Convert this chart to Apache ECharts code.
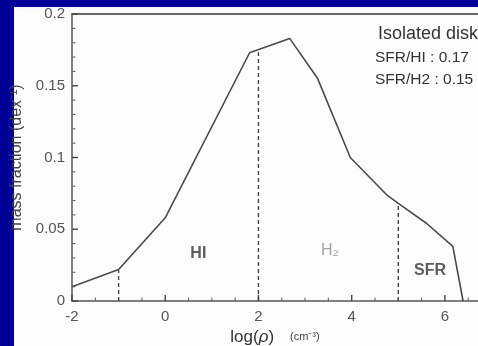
<!DOCTYPE html>
<html><head><meta charset="utf-8">
<script src="https://cdn.jsdelivr.net/npm/echarts@6/dist/echarts.min.js"></script>
<style>
html,body{margin:0;padding:0;background:#000096;overflow:hidden;}
#panel{position:absolute;left:14px;top:7px;width:464px;height:339px;background:#fdfdfd;}
#c{position:absolute;left:0;top:0;width:478px;height:346px;}
</style>
</head><body><div id="panel"></div><div id="c"></div>
<script>
// Data
var curveX = [-2, -1, 0, 1.81, 2.67, 3.27, 3.97, 4.75, 5.0, 5.61, 6.17, 6.39];
var curveY = [0.010, 0.022, 0.058, 0.173, 0.183, 0.155, 0.100, 0.074, 0.068, 0.054, 0.038, 0];
var dividerX = [-1, 2, 5];
var dividerTop = [0.0216, 0.1755, 0.068];
var regionNames = ['HI', 'H\u2082', 'SFR'];
var regionX = [0.71, 3.53, 5.68];
var regionY = [0.033, 0.035, 0.021];
var xRange = [-2, 6.71];
var yRange = [0, 0.2];
var xMajorTicks = [-2, 0, 2, 4, 6];
var yMajorTicks = [0, 0.05, 0.1, 0.15, 0.2];
var xMinorStep = 0.5;
var yMinorStep = 0.01;
var infoLines = ['Isolated disk', 'SFR/HI : 0.17', 'SFR/H2 : 0.15'];

var chart = echarts.init(document.getElementById('c'));
var F = 'Liberation Sans, Arial, sans-serif';

// tick marks list: [xValue, yValue, orientation(0=x axis,1=y axis), major(1)/minor(0)]
var tickData = [];
for (var i = 0; i * xMinorStep + xRange[0] <= xRange[1]; i++) {
  var xv = Math.round((xRange[0] + i * xMinorStep) * 100) / 100;
  tickData.push([xv, yRange[0], 0, xMajorTicks.indexOf(xv) >= 0 ? 1 : 0]);
}
for (var j = 0; j * yMinorStep + yRange[0] <= yRange[1] + 1e-9; j++) {
  var yv = Math.round((yRange[0] + j * yMinorStep) * 1000) / 1000;
  tickData.push([xRange[0], yv, 1, yMajorTicks.indexOf(yv) >= 0 ? 1 : 0]);
}

var series = [];
series.push({
  type: 'line', data: curveX.map(function (x, i) { return [x, curveY[i]]; }),
  symbol: 'none', lineStyle: {color: '#4a4a4a', width: 1.6}, z: 5
});
dividerX.forEach(function (x, i) {
  series.push({
    type: 'line', data: [[x, 0], [x, dividerTop[i]]], symbol: 'none',
    lineStyle: {color: '#444', width: 1.4, type: [4, 3]}, z: 4
  });
});
var regionColors = ['#333', '#8a8a8a', '#333'];
series.push({
  type: 'scatter', symbolSize: 0,
  data: regionX.map(function (x, i) {
    return {value: [x, regionY[i]], label: {show: true, position: 'inside', formatter: regionNames[i],
      color: regionColors[i], fontSize: 16, fontFamily: F, fontWeight: i === 1 ? 'normal' : 'bold'}};
  })
});
series.push({
  type: 'custom', clip: false, silent: true, z: 3,
  data: tickData,
  renderItem: function (params, api) {
    var p = api.coord([api.value(0), api.value(1)]);
    var len = api.value(3) === 1 ? 6 : 3.5;
    var shape = api.value(2) === 0
      ? {x1: p[0], y1: p[1], x2: p[0], y2: p[1] - len}
      : {x1: p[0], y1: p[1], x2: p[0] + len, y2: p[1]};
    return {type: 'line', shape: shape, style: {stroke: api.value(3) === 1 ? '#444' : '#666', lineWidth: api.value(3) === 1 ? 1.4 : 1.1}};
  }
});

chart.setOption({
  animation: false,
  title: [
    {text: infoLines[0], left: 378, top: 25, padding: 0, textStyle: {fontSize: 18, fontWeight: 'normal', fontFamily: F, color: '#333'}},
    {text: infoLines[1], left: 375, top: 50, padding: 0, textStyle: {fontSize: 15.5, fontWeight: 'normal', fontFamily: F, color: '#333'}},
    {text: infoLines[2], left: 375, top: 72, padding: 0, textStyle: {fontSize: 15.5, fontWeight: 'normal', fontFamily: F, color: '#333'}}
  ],
  grid: {left: 72, top: 14, right: 0, bottom: 45, outerBoundsMode: 'none', containLabel: false},
  xAxis: [{
    type: 'value', min: xRange[0], max: xRange[1], interval: 2,
    name: '{a|log(}{b|\u03C1}{a|)}{c|(cm\u207B\u00B3)}', nameLocation: 'middle', nameGap: 24,
    nameTextStyle: {rich: {
      a: {fontSize: 17, fontFamily: F, color: '#333'},
      b: {fontSize: 17, fontFamily: F, fontStyle: 'italic', color: '#333'},
      c: {fontSize: 11, fontFamily: F, color: '#444', padding: [0, 0, 0, 16]}
    }},
    axisLine: {show: true, onZero: false, lineStyle: {color: '#555', width: 1.5}},
    axisTick: {show: false},
    splitLine: {show: false},
    axisLabel: {color: '#555', fontSize: 15, fontFamily: F, margin: 8, showMaxLabel: false}
  }, {
    type: 'value', min: xRange[0], max: xRange[1], position: 'top',
    axisLine: {show: true, onZero: false, lineStyle: {color: '#666', width: 2}},
    axisTick: {show: false}, axisLabel: {show: false}, splitLine: {show: false}
  }],
  yAxis: {
    type: 'value', min: yRange[0], max: yRange[1], interval: 0.05,
    name: 'mass fraction (dex\u207B\u00B9)', nameLocation: 'middle', nameRotate: 90, nameGap: 20,
    nameTextStyle: {fontSize: 16, fontFamily: F, color: '#444'},
    axisLine: {show: true, onZero: false, lineStyle: {color: '#555', width: 1.5}},
    axisTick: {show: false},
    splitLine: {show: false},
    axisLabel: {color: '#555', fontSize: 15, fontFamily: F, margin: 7}
  },
  series: series
});
</script>
</body></html>
